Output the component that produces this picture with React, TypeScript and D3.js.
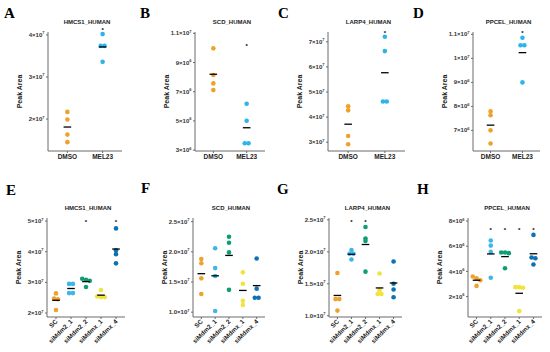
import { scaleLinear, scalePoint } from "d3";

// groups and titles
const topGroups = ["DMSO", "MEL23"];
const bottomGroups = ["SC", "siMdm2_1", "siMdm2_2", "siMdmx_1", "siMdmx_4"];
const proteins = ["HMCS1_HUMAN", "SCD_HUMAN", "LARP4_HUMAN", "PPCEL_HUMAN"];
const topLetters = ["A", "B", "C", "D"];
const bottomLetters = ["E", "F", "G", "H"];

// peak areas (units given by the tick arrays)
const hmcs1Mel23 = [[2.17, 1.99, 1.63, 1.45], [4.02, 3.74, 3.74, 3.36]]; // x1e7
const scdMel23 = [[9.97, 8.14, 7.57, 7.11], [6.18, 5.01, 3.47, 3.47]]; // x1e6
const larp4Mel23 = [[4.43, 4.27, 3.25, 2.92], [7.2, 6.63, 4.62, 4.62]]; // x1e7
const ppcelMel23 = [[7.79, 7.63, 7.0, 6.45], [10.86, 10.55, 10.55, 9.0]]; // x1e6

const hmcs1Si = [
  [2.64, 2.47, 2.45, 2.1],
  [2.95, 2.95, 2.65, 2.65],
  [3.12, 3.08, 3.05, 2.85],
  [2.75, 2.54, 2.52, 2.52],
  [4.76, 4.05, 3.92, 3.62],
]; // x1e7
const scdSi = [
  [1.88, 1.81, 1.56, 1.3],
  [2.06, 1.73, 1.6, 1.02],
  [2.25, 2.15, 1.99, 1.37],
  [1.66, 1.47, 1.19, 1.12],
  [1.89, 1.39, 1.24, 1.24],
]; // x1e7
const larp4Si = [
  [1.67, 1.26, 1.26, 1.08],
  [2.03, 1.97, 1.97, 1.88],
  [2.39, 2.21, 2.17, 1.69],
  [1.66, 1.4, 1.34, 1.34],
  [1.85, 1.5, 1.41, 1.29],
]; // x1e7
const ppcelSi = [
  [3.6, 3.45, 3.3, 2.85],
  [6.45, 6.05, 5.55, 3.5],
  [5.5, 5.5, 5.45, 4.25],
  [2.75, 2.75, 2.7, 0.85],
  [6.9, 5.1, 5.05, 4.55],
]; // x1e6

// significance stars (value where the * sits, null = none)
const topStars = [[null, 4.12], [null, 10.2], [null, 7.38], [null, 11.07]];
const bottomStars = [
  [null, null, 5.0, null, 5.0],
  [null, null, null, null, null],
  [null, 2.48, 2.48, null, null],
  [null, 7.34, 7.34, 7.34, 7.34],
];

// ticks
const topTicks = [[2, 3, 4], [3, 5, 7, 9, 11], [3, 4, 5, 6, 7], [7, 8, 9, 10, 11]];
const topTickLabels = [
  ["2×10^7", "3×10^7", "4×10^7"],
  ["3×10^6", "5×10^6", "7×10^6", "9×10^6", "1.1×10^7"],
  ["3×10^7", "4×10^7", "5×10^7", "6×10^7", "7×10^7"],
  ["7×10^6", "8×10^6", "9×10^6", "1×10^7", "1.1×10^7"],
];
const bottomTicks = [[2, 3, 4, 5], [1, 1.5, 2, 2.5], [1, 1.5, 2, 2.5], [2, 4, 6, 8]];
const bottomTickLabels = [
  ["2×10^7", "3×10^7", "4×10^7", "5×10^7"],
  ["1.0×10^7", "1.5×10^7", "2.0×10^7", "2.5×10^7"],
  ["1.0×10^7", "1.5×10^7", "2.0×10^7", "2.5×10^7"],
  ["2×10^6", "4×10^6", "6×10^6", "8×10^6"],
];

const topColors = ["#EFA12C", "#2DB4E8"];
const bottomColors = ["#EFA12C", "#3DB6E8", "#0E9E74", "#F2E23C", "#0B72B4"];

// layout
const topDomains = [[1.24, 4.07], [2.94, 11.09], [2.65, 7.39], [6.14, 11.1]];
const bottomDomains = [[1.87, 5.1], [0.92, 2.56], [0.98, 2.53], [0.38, 8.24]];
const topXRanges = [[48, 122], [195, 265], [328, 405], [473, 540]];
const bottomXRanges = [[47, 125], [193, 265], [329, 402], [468, 542]];
const topLetterPos = [[4, 18], [140, 18], [278, 18], [413, 18]];
const bottomLetterPos = [[6, 195], [141, 193], [277, 194], [417, 194]];

function TickLabel({ x, y, label }: { x: number; y: number; label: string }) {
  const [base, exp] = label.split("^");
  return (
    <text x={x} y={y} textAnchor="end" dy="0.35em" fontSize={6} fontWeight="bold" fill="#333">
      <tspan>{base}</tspan>
      <tspan dy={-2.6} fontSize={4}>{exp}</tspan>
    </text>
  );
}

function dodge(vals: number[], y: (v: number) => number) {
  const order = vals.map((v, i) => i).sort((a, b) => vals[b] - vals[a]);
  const off = new Array(vals.length).fill(0);
  let cluster: number[] = [];
  const flush = () => {
    cluster.forEach((idx, k) => (off[idx] = (k - (cluster.length - 1) / 2) * 3.8));
    cluster = [];
  };
  order.forEach((idx) => {
    if (cluster.length && Math.abs(y(vals[idx]) - y(vals[cluster[cluster.length - 1]])) > 2.5) flush();
    cluster.push(idx);
  });
  flush();
  return off;
}

function Panel(props: {
  letter: string;
  letterPos: number[];
  title: string;
  groups: string[];
  values: number[][];
  stars: (number | null)[];
  ticks: number[];
  tickLabels: string[];
  domain: number[];
  xRange: number[];
  yRange: number[];
  colors: string[];
  rotate: boolean;
}) {
  const { groups, values, xRange, yRange } = props;
  const x = scalePoint<string>().domain(groups).range(xRange as [number, number]).padding(groups.length > 2 ? 0.6 : 0.55);
  const y = scaleLinear().domain(props.domain).range(yRange);
  const [x0, x1] = xRange;
  const yb = yRange[0];
  const yt = yRange[1];
  const axis = "#6b6b6b";
  return (
    <g>
      <text x={props.letterPos[0]} y={props.letterPos[1]} fontFamily="Liberation Serif, serif" fontWeight="bold" fontSize={15}>
        {props.letter}
      </text>
      <text x={(x0 + x1) / 2 + 2} y={yt - 8} textAnchor="middle" fontSize={6} fontWeight="bold" fill="#222">
        {props.title}
      </text>
      <line x1={x0} x2={x0} y1={yt} y2={yb} stroke={axis} strokeWidth={1} />
      <line x1={x0} x2={x1} y1={yb} y2={yb} stroke={axis} strokeWidth={1} />
      {props.ticks.map((t, i) => (
        <g key={t}>
          <line x1={x0 - 2} x2={x0} y1={y(t)} y2={y(t)} stroke={axis} />
          <TickLabel x={x0 - 3.5} y={y(t)} label={props.tickLabels[i]} />
        </g>
      ))}
      <text
        transform={`translate(${x0 - 26},${(yt + yb) / 2}) rotate(-90)`}
        textAnchor="middle"
        fontSize={7}
        fontWeight="bold"
        fill="#222"
      >
        Peak Area
      </text>
      {groups.map((g, gi) => {
        const cx = x(g) as number;
        const vals = values[gi];
        const off = dodge(vals, y);
        const mean = vals.reduce((a, b) => a + b, 0) / vals.length;
        const star = props.stars[gi];
        return (
          <g key={g}>
            <line x1={cx} x2={cx} y1={yb} y2={yb + 2} stroke={axis} />
            {props.rotate ? (
              <text
                transform={`translate(${cx + 2},${yb + 5}) rotate(-45)`}
                textAnchor="end"
                fontSize={6.4}
                fontWeight="bold"
                fill="#222"
              >
                {g}
              </text>
            ) : (
              <text x={cx} y={yb + 8} textAnchor="middle" fontSize={6.5} fontWeight="bold" fill="#222">
                {g}
              </text>
            )}
            {vals.map((v, i) => (
              <circle key={i} cx={cx + off[i]} cy={y(v)} r={2.3} fill={props.colors[gi]} />
            ))}
            <line x1={cx - 3.8} x2={cx + 3.8} y1={y(mean)} y2={y(mean)} stroke="#000" strokeWidth={1.3} />
            {star !== null && (
              <text x={cx} y={y(star) + 2.6} textAnchor="middle" fontSize={6} fontWeight="bold">
                *
              </text>
            )}
          </g>
        );
      })}
    </g>
  );
}

export default function App() {
  const topValues = [hmcs1Mel23, scdMel23, larp4Mel23, ppcelMel23];
  const bottomValues = [hmcs1Si, scdSi, larp4Si, ppcelSi];
  return (
    <svg
      width={550}
      height={352}
      style={{ position: "absolute", left: 0, top: 0, background: "#fff" }}
      fontFamily="Liberation Sans, Arial, sans-serif"
    >
      {proteins.map((p, i) => (
        <Panel
          key={"t" + p}
          letter={topLetters[i]}
          letterPos={topLetterPos[i]}
          title={p}
          groups={topGroups}
          values={topValues[i]}
          stars={topStars[i]}
          ticks={topTicks[i]}
          tickLabels={topTickLabels[i]}
          domain={topDomains[i]}
          xRange={topXRanges[i]}
          yRange={[151, 32]}
          colors={topColors}
          rotate={false}
        />
      ))}
      {proteins.map((p, i) => (
        <Panel
          key={"b" + p}
          letter={bottomLetters[i]}
          letterPos={bottomLetterPos[i]}
          title={p}
          groups={bottomGroups}
          values={bottomValues[i]}
          stars={bottomStars[i]}
          ticks={bottomTicks[i]}
          tickLabels={bottomTickLabels[i]}
          domain={bottomDomains[i]}
          xRange={bottomXRanges[i]}
          yRange={[317, 218]}
          colors={bottomColors}
          rotate={true}
        />
      ))}
    </svg>
  );
}
